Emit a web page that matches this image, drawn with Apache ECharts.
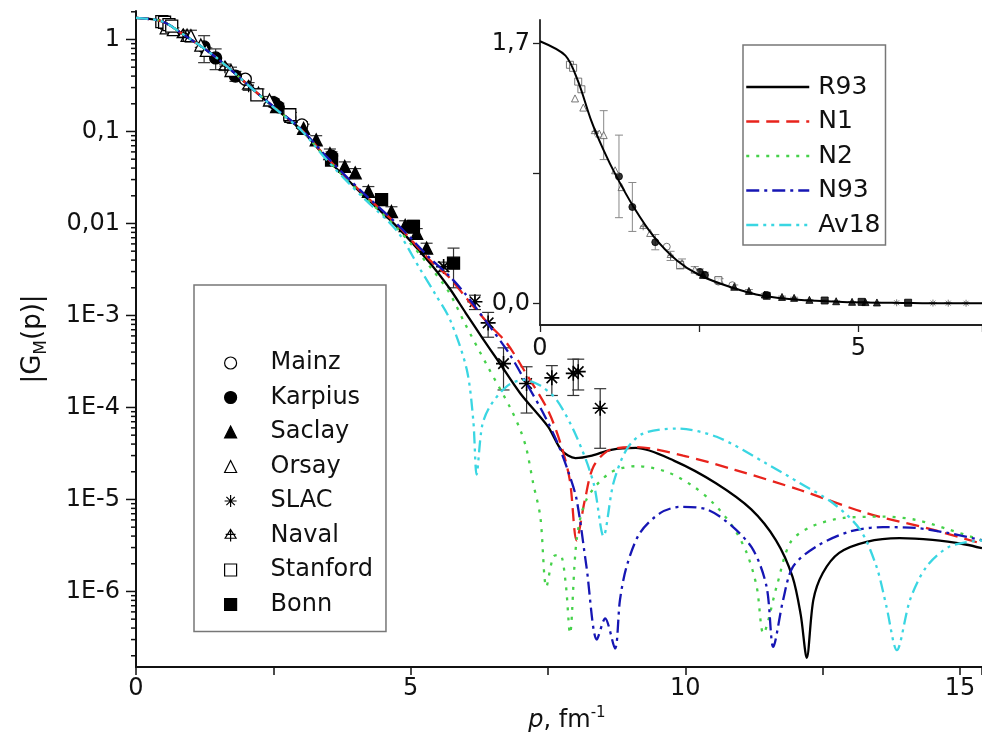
<!DOCTYPE html>
<html><head><meta charset="utf-8">
<script src="https://cdn.jsdelivr.net/npm/echarts@6/dist/echarts.min.js"></script>
<style>html,body{margin:0;padding:0;background:#fff}#c{width:982px;height:750px}</style>
</head><body><div id="c"></div>
<script>
const FONT = 'DejaVu Sans';

// ---- model curves: momentum p (fm^-1) and |G_M(p)| ----
const r93P = [0, 0.4, 0.6, 0.8, 1.0, 1.2, 1.47, 1.78, 2.15, 2.5, 3.0, 3.5, 4.1, 4.75, 5.35, 5.7, 6.0, 6.3, 6.6, 7.0, 7.5, 7.75, 8.0, 8.3, 8.65, 9.1, 9.8, 10.55, 11.2, 11.65, 11.95, 12.1, 12.21, 12.33, 12.5, 12.8, 13.3, 13.9, 14.5, 15.1, 15.4];
const r93V = [1.714, 1.62, 1.45, 1.20, 1.00, 0.83, 0.63, 0.44, 0.28, 0.185, 0.105, 0.049, 0.0214, 0.00923, 0.00372, 0.0020, 1.07e-3, 5.75e-4, 3.16e-4, 1.41e-4, 6.2e-5, 3.4e-5, 2.82e-5, 3.0e-5, 3.47e-5, 3.63e-5, 2.63e-5, 1.51e-5, 7.8e-6, 3.6e-6, 1.45e-6, 5.6e-7, 1.9e-7, 8.1e-7, 1.58e-6, 2.63e-6, 3.47e-6, 3.8e-6, 3.63e-6, 3.24e-6, 2.95e-6];

const n1P = [0, 0.4, 0.6, 0.8, 1.0, 1.2, 1.47, 1.78, 2.15, 2.5, 3.0, 3.5, 4.1, 4.75, 5.35, 5.7, 6.0, 6.4, 6.75, 7.1, 7.5, 7.75, 7.9, 8.02, 8.17, 8.33, 8.63, 9.1, 9.96, 10.9, 12.1, 13.3, 14.5, 15.4];
const n1V = [1.714, 1.62, 1.45, 1.20, 1.00, 0.83, 0.63, 0.44, 0.28, 0.186, 0.106, 0.050, 0.022, 0.0097, 0.0040, 0.0026, 0.00158, 8.3e-4, 5.0e-4, 2.34e-4, 9.3e-5, 3.7e-5, 1.58e-5, 3.6e-6, 9.8e-6, 2.3e-5, 3.47e-5, 3.7e-5, 3.0e-5, 2.1e-5, 1.26e-5, 7.1e-6, 4.7e-6, 3.3e-6];

const n2P = [0, 0.4, 0.6, 0.8, 1.0, 1.2, 1.47, 1.78, 2.15, 2.5, 3.0, 3.5, 4.1, 4.75, 5.35, 5.7, 6.0, 6.4, 6.81, 7.0, 7.11, 7.23, 7.36, 7.47, 7.6, 7.72, 7.82, 7.9, 8.02, 8.2, 8.63, 9.11, 9.66, 10.15, 10.51, 10.87, 11.12, 11.3, 11.42, 11.66, 11.91, 12.27, 12.88, 13.6, 14.2, 14.8, 15.4];
const n2V = [1.714, 1.62, 1.45, 1.20, 1.00, 0.83, 0.63, 0.44, 0.28, 0.185, 0.105, 0.0485, 0.021, 0.0089, 0.0034, 1.78e-3, 7.9e-4, 2.8e-4, 1.0e-4, 5.6e-5, 3.5e-5, 1.5e-5, 6.5e-6, 1.12e-6, 2.4e-6, 2.5e-6, 1.26e-6, 3.5e-7, 3.6e-6, 1.0e-5, 1.95e-5, 2.3e-5, 2.0e-5, 1.38e-5, 9.1e-6, 5.0e-6, 2.6e-6, 1.12e-6, 3.5e-7, 1.12e-6, 3.4e-6, 5.0e-6, 6.3e-6, 6.5e-6, 6.0e-6, 4.7e-6, 3.6e-6];

const n93P = [0, 0.4, 0.6, 0.8, 1.0, 1.2, 1.47, 1.78, 2.15, 2.5, 3.0, 3.5, 4.1, 4.75, 5.35, 5.7, 6.0, 6.44, 6.8, 7.11, 7.4, 7.66, 7.87, 8.02, 8.2, 8.39, 8.54, 8.72, 8.81, 8.93, 9.17, 9.54, 9.9, 10.39, 10.87, 11.24, 11.48, 11.6, 11.78, 11.96, 12.39, 13.0, 13.6, 14.2, 14.8, 15.4];
const n93V = [1.714, 1.62, 1.45, 1.20, 1.00, 0.83, 0.63, 0.44, 0.28, 0.187, 0.107, 0.051, 0.0225, 0.0099, 0.0042, 0.0027, 1.7e-3, 7.6e-4, 3.8e-4, 1.82e-4, 9.0e-5, 4.3e-5, 2.0e-5, 1.0e-5, 1.86e-6, 3.0e-7, 5.1e-7, 2.4e-7, 8.1e-7, 1.86e-6, 4.3e-6, 7.1e-6, 8.3e-6, 7.8e-6, 5.0e-6, 2.8e-6, 1.12e-6, 2.5e-7, 8.1e-7, 1.86e-6, 3.1e-6, 4.5e-6, 5.0e-6, 4.9e-6, 4.3e-6, 3.6e-6];

const av18P = [0, 0.4, 0.6, 0.8, 1.0, 1.2, 1.47, 1.78, 2.15, 2.5, 3.0, 3.5, 4.1, 4.75, 5.17, 5.45, 5.72, 6.02, 6.14, 6.2, 6.3, 6.44, 6.75, 7.05, 7.35, 7.66, 8.02, 8.33, 8.51, 8.69, 8.93, 9.23, 9.84, 10.57, 11.48, 12.09, 12.69, 13.18, 13.48, 13.66, 13.85, 14.09, 14.39, 14.82, 15.4];
const av18V = [1.714, 1.62, 1.45, 1.20, 1.00, 0.83, 0.63, 0.44, 0.28, 0.184, 0.104, 0.047, 0.020, 0.0083, 0.0032, 1.7e-3, 8.9e-4, 2.6e-4, 7.2e-5, 1.86e-5, 6.3e-5, 1.02e-4, 1.7e-4, 2.0e-4, 1.74e-4, 1.2e-4, 4.8e-5, 1.5e-5, 4.0e-6, 1.5e-5, 3.5e-5, 5.2e-5, 5.9e-5, 4.8e-5, 2.45e-5, 1.5e-5, 9.1e-6, 4.7e-6, 1.86e-6, 6.9e-7, 2.3e-7, 8.1e-7, 1.86e-6, 3.1e-6, 3.6e-6];

// ---- experimental data: p, |G_M|, error ----
const mainzP = [1.99, 2.80, 3.02];
const mainzV = [0.37, 0.142, 0.118];
const mainzE = [0.03, 0.012, 0.01];
const karpiusP = [1.24, 1.45, 1.81, 2.51, 2.59, 3.56];
const karpiusV = [0.83, 0.63, 0.40, 0.205, 0.185, 0.054];
const karpiusE = [0.27, 0.16, 0.05, 0.02, 0.018, 0.006];
const saclayP = [2.56, 3.05, 3.28, 3.53, 3.80, 3.99, 4.23, 4.65, 4.90, 5.11, 5.29];
const saclayV = [0.186, 0.108, 0.081, 0.0575, 0.0417, 0.0355, 0.0224, 0.0135, 0.0095, 0.0078, 0.0054];
const saclayE = [0.02, 0.012, 0.009, 0.007, 0.005, 0.004, 0.0028, 0.0017, 0.0012, 0.001, 0.0007];
const orsayP = [0.55, 0.68, 0.93, 1.0, 1.18, 1.28, 1.73, 2.23, 2.43, 2.82];
const orsayV = [1.34, 1.28, 1.11, 1.10, 0.87, 0.76, 0.46, 0.26, 0.22, 0.146];
const orsayE = [0.05, 0.06, 0.06, 0.16, 0.05, 0.05, 0.04, 0.03, 0.02, 0.015];
const slacP = [5.60, 6.17, 6.41, 6.69, 7.11, 7.57, 7.96, 8.05, 8.45];
const slacV = [3.4e-3, 1.41e-3, 8.3e-4, 3.0e-4, 1.82e-4, 2.1e-4, 2.35e-4, 2.45e-4, 9.8e-5];
const slacE = [4e-4, 2.5e-4, 2.5e-4, 1.45e-4, 9.5e-5, 7.5e-5, 1.0e-4, 9e-5, 6.2e-5];
const navalP = [0.86, 1.62, 2.05];
const navalV = [1.12, 0.50, 0.31];
const navalE = [0.06, 0.04, 0.03];
const stanfordP = [0.47, 0.52, 0.60, 0.65, 2.20, 2.80];
const stanfordV = [1.56, 1.54, 1.45, 1.40, 0.25, 0.152];
const stanfordE = [0.1, 0.1, 0.09, 0.09, 0.025, 0.015];
const bonnP = [3.56, 4.47, 5.05, 5.78];
const bonnV = [0.049, 0.0182, 0.0093, 0.0037];
const bonnE = [0.006, 0.0025, 0.0015, 0.0017];

// ---- axis ticks ----
const mainYMajor = [1e-6, 1e-5, 1e-4, 1e-3, 0.01, 0.1, 1];
const mainYMin = 1.51e-7, mainYMax = 2.04;
const insetYLabels = [0, 1.7];
const insetYTicks = [0, 0.85, 1.7];

const modelNames = ['R93', 'N1', 'N2', 'N93', 'Av18'];
const dataNames = ['Mainz', 'Karpius', 'Saclay', 'Orsay', 'SLAC', 'Naval', 'Stanford', 'Bonn'];

const pairs = (P, V) => P.map((p, i) => [p, V[i]]);
const triples = (P, V, E) => P.map((p, i) => [p, V[i], E[i]]);

const ASTER = 'path://M5,0L5,10M0,5L10,5M1.5,1.5L8.5,8.5M8.5,1.5L1.5,8.5';
const NAVAL = 'path://M5,0L10,8L0,8ZM0.5,4.5L9.5,4.5M5,0L5,11';
const datasets = [
  {name: 'Mainz', P: mainzP, V: mainzV, E: mainzE, symbol: 'circle', fill: '#fff', size: 12, bw: 1.3},
  {name: 'Karpius', P: karpiusP, V: karpiusV, E: karpiusE, symbol: 'circle', fill: '#000', size: 12, bw: 1.3},
  {name: 'Saclay', P: saclayP, V: saclayV, E: saclayE, symbol: 'triangle', fill: '#000', size: 12, bw: 1.3},
  {name: 'Orsay', P: orsayP, V: orsayV, E: orsayE, symbol: 'triangle', fill: '#fff', size: 12, bw: 1.3},
  {name: 'SLAC', P: slacP, V: slacV, E: slacE, symbol: ASTER, fill: 'rgba(0,0,0,0)', size: 15, bw: 1.6},
  {name: 'Naval', P: navalP, V: navalV, E: navalE, symbol: NAVAL, fill: 'rgba(0,0,0,0)', size: 12, bw: 1.3},
  {name: 'Stanford', P: stanfordP, V: stanfordV, E: stanfordE, symbol: 'rect', fill: '#fff', size: 12, bw: 1.3},
  {name: 'Bonn', P: bonnP, V: bonnV, E: bonnE, symbol: 'rect', fill: '#000', size: 12, bw: 1.3}
];
const models = [
  {name: 'R93', P: r93P, V: r93V, color: '#000000', type: 'solid'},
  {name: 'N1', P: n1P, V: n1V, color: '#e8231c', type: [13, 7]},
  {name: 'N2', P: n2P, V: n2V, color: '#45d14a', type: [3, 7]},
  {name: 'N93', P: n93P, V: n93V, color: '#1616b4', type: [13, 5, 3, 5]},
  {name: 'Av18', P: av18P, V: av18V, color: '#3ad6e2', type: [12, 5, 3, 5, 3, 5]}
];

function errRender(capHalf, color, lw, minRel) {
  return function (params, api) {
    const x = api.value(0), y = api.value(1), e = api.value(2);
    if (e / y < minRel) return {type: 'group', children: []};
    let lo = y - e; if (lo <= 0) lo = y * 0.2;
    const hi = y + e;
    const a = api.coord([x, lo]), b = api.coord([x, hi]);
    const st = {stroke: color, lineWidth: lw};
    return {type: 'group', children: [
      {type: 'line', shape: {x1: a[0], y1: a[1], x2: b[0], y2: b[1]}, style: st},
      {type: 'line', shape: {x1: a[0] - capHalf, y1: a[1], x2: a[0] + capHalf, y2: a[1]}, style: st},
      {type: 'line', shape: {x1: b[0] - capHalf, y1: b[1], x2: b[0] + capHalf, y2: b[1]}, style: st}
    ]};
  };
}

// log-axis ticks (major + minor) for the main chart
const logTickData = [];
mainYMajor.forEach(v => logTickData.push([0, v, 1]));
for (let e = -7; e <= 0; e++) {
  for (let k = 2; k <= 9; k++) {
    const v = k * Math.pow(10, e);
    if (v > mainYMin && v < mainYMax) logTickData.push([0, v, 0]);
  }
}

const series = [];
const allErr = [];
datasets.forEach(d => triples(d.P, d.V, d.E).forEach(t => allErr.push(t)));
series.push({type: 'custom', name: 'errMain', xAxisIndex: 0, yAxisIndex: 0, silent: true, z: 2,
  renderItem: errRender(6, '#333', 1.2, 0), data: allErr});
datasets.forEach(d => {
  series.push({type: 'scatter', name: d.name, xAxisIndex: 0, yAxisIndex: 0, silent: true, z: 3,
    symbol: d.symbol, symbolSize: d.size,
    itemStyle: {color: d.fill, borderColor: '#000', borderWidth: d.bw, opacity: 1},
    data: pairs(d.P, d.V)});
});
models.forEach(m => {
  series.push({type: 'line', name: m.name, xAxisIndex: 0, yAxisIndex: 0, silent: true, z: 4,
    symbol: 'none', smooth: 0.3, color: m.color,
    lineStyle: {color: m.color, width: 2.3, type: m.type},
    data: pairs(m.P, m.V)});
});
series.push({type: 'custom', name: 'logTicks', xAxisIndex: 0, yAxisIndex: 0, silent: true, z: 5,
  renderItem: function (params, api) {
    const pt = api.coord([0, api.value(1)]);
    const len = api.value(2) ? 10 : 5;
    return {type: 'line', shape: {x1: pt[0] - len, y1: pt[1], x2: pt[0], y2: pt[1]},
      style: {stroke: '#111', lineWidth: 1.5}};
  }, data: logTickData});

// inset
series.push({type: 'custom', name: 'errInset', xAxisIndex: 1, yAxisIndex: 1, silent: true, z: 2,
  renderItem: errRender(4, '#888', 1, 0.09), data: allErr, clip: true});
datasets.forEach(d => {
  const filled = d.fill === '#000';
  series.push({type: 'scatter', name: d.name, xAxisIndex: 1, yAxisIndex: 1, silent: true, z: 3,
    symbol: d.symbol, symbolSize: 7, clip: true,
    itemStyle: {color: filled ? '#000' : d.fill, borderColor: filled ? '#000' : '#555', borderWidth: 1},
    data: pairs(d.P, d.V)});
});
series.push({type: 'line', name: 'R93', xAxisIndex: 1, yAxisIndex: 1, silent: true, z: 4,
  symbol: 'none', smooth: 0.3, clip: true, color: '#000',
  lineStyle: {color: '#000', width: 2}, data: pairs(r93P, r93V)});

const axisLabelStyle = {fontFamily: FONT, fontSize: 24, color: '#111'};

const option = {
  animation: false,
  backgroundColor: '#fff',
  grid: [
    {left: 136, top: 11, right: 0, bottom: 83},
    {left: 540, top: 20, right: 0, bottom: 425}
  ],
  xAxis: [
    {gridIndex: 0, type: 'value', min: 0, max: 15.4, interval: 5,
      axisLine: {onZero: false, lineStyle: {color: '#111', width: 2}},
      axisTick: {length: 8, lineStyle: {color: '#111', width: 1.5}},
      minorTick: {show: true, splitNumber: 2, length: 8, lineStyle: {color: '#111', width: 1.5}},
      splitLine: {show: false},
      axisLabel: Object.assign({margin: 10, showMaxLabel: false}, axisLabelStyle),
      name: '{i|p}{n|, fm}{sup|-1}', nameLocation: 'middle', nameGap: 23,
      nameTextStyle: {fontFamily: FONT, fontSize: 24, color: '#111', padding: [0, 0, 0, 16], rich: {
        i: {fontFamily: FONT, fontSize: 24, fontStyle: 'italic', color: '#111', lineHeight: 30, verticalAlign: 'middle'},
        n: {fontFamily: FONT, fontSize: 24, color: '#111', lineHeight: 30, verticalAlign: 'middle'},
        sup: {fontFamily: FONT, fontSize: 15, color: '#111', lineHeight: 15, verticalAlign: 'top'}
      }}},
    {gridIndex: 1, type: 'value', min: 0, max: 6.94, interval: 5,
      axisLine: {onZero: false, lineStyle: {color: '#222', width: 1.8}},
      axisTick: {length: 7, lineStyle: {color: '#222', width: 1.3}},
      minorTick: {show: true, splitNumber: 2, length: 7, lineStyle: {color: '#222', width: 1.3}},
      splitLine: {show: false},
      axisLabel: Object.assign({margin: 12, showMaxLabel: false}, axisLabelStyle)}
  ],
  yAxis: [
    {gridIndex: 0, type: 'log', logBase: 10, min: mainYMin, max: mainYMax,
      axisLine: {onZero: false, lineStyle: {color: '#111', width: 2}},
      axisTick: {show: false},
      splitLine: {show: false},
      axisLabel: Object.assign({margin: 16, showMinLabel: false, showMaxLabel: false,
        formatter: function (v) {
          const e = Math.round(Math.log10(v));
          if (e === 0) return '1';
          if (e === -1) return '0,1';
          if (e === -2) return '0,01';
          return '1E' + e;
        }}, axisLabelStyle),
      name: '{n||G}{sub|M}{n|(p)|}', nameLocation: 'middle', nameGap: 86,
      nameTextStyle: {fontFamily: FONT, fontSize: 26, color: '#111', rich: {
        n: {fontFamily: FONT, fontSize: 26, color: '#111', lineHeight: 34, verticalAlign: 'middle'},
        sub: {fontFamily: FONT, fontSize: 17, color: '#111', lineHeight: 17, verticalAlign: 'bottom'}
      }}},
    {gridIndex: 1, type: 'value', min: -0.142, max: 1.853,
      axisLine: {onZero: false, lineStyle: {color: '#222', width: 1.8}},
      axisTick: {length: 7, customValues: insetYTicks, lineStyle: {color: '#222', width: 1.3}},
      splitLine: {show: false},
      axisLabel: Object.assign({margin: 10, customValues: insetYLabels,
        formatter: v => v.toFixed(1).replace('.', ',')}, axisLabelStyle)}
  ],
  legend: [
    {data: dataNames, left: 194, top: 285, orient: 'vertical', selectedMode: false,
      itemWidth: 12, itemHeight: 12, itemGap: 8.5, padding: [65, 13, 14, 30],
      borderColor: '#777', borderWidth: 1.5,
      itemStyle: {borderWidth: 1.2},
      textStyle: {fontFamily: FONT, fontSize: 24, lineHeight: 26, color: '#111', padding: [0, 0, 0, 29]}},
    {data: modelNames, left: 743, top: 45, orient: 'vertical', selectedMode: false,
      itemWidth: 63, itemHeight: 14, itemGap: 6.5, padding: [28, 5, 6, 2],
      borderColor: '#777', borderWidth: 1.5,
      itemStyle: {color: 'rgba(0,0,0,0)', borderWidth: 0, opacity: 0},
      lineStyle: {width: 2.5},
      textStyle: {fontFamily: FONT, fontSize: 25, lineHeight: 28, color: '#111', padding: [0, 0, 0, 4]}}
  ],
  series: series
};

const chart = echarts.init(document.getElementById('c'), null, {renderer: 'canvas'});
chart.setOption(option);
</script>
</body></html>
